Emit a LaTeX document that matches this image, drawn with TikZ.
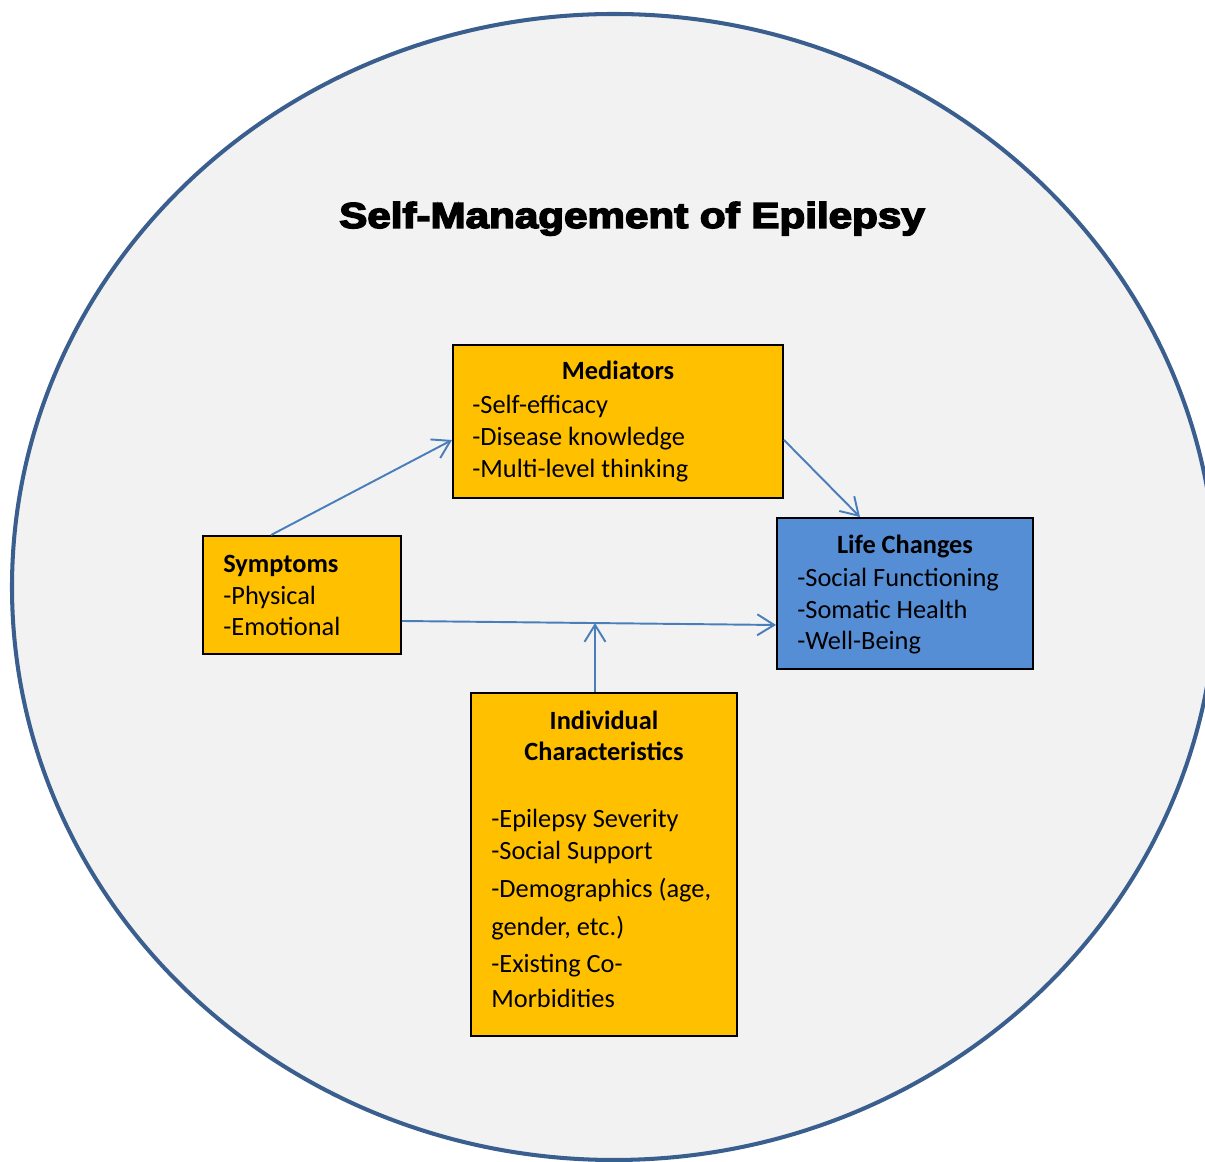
\documentclass[tikz,border=0pt]{standalone}
\usepackage{fontspec}
\setmainfont{Carlito}
\newfontfamily\titlefont[RawFeature={embolden=4}]{Liberation Sans Bold}
\usepackage{xcolor}
\usetikzlibrary{arrows.meta,positioning,calc}

\definecolor{boxorange}{HTML}{FFC000}
\definecolor{boxblue}{HTML}{558ED5}
\definecolor{linkblue}{HTML}{4A7EBB}
\definecolor{rimblue}{HTML}{3A5F8E}
\definecolor{bggrey}{HTML}{F2F2F2}

\begin{document}
\begin{tikzpicture}[every node/.style={font=\fontsize{15}{18.2}\selectfont}, >={Straight Barb[length=0.34cm,width=0.42cm]}]
\tikzset{
  factor/.style={draw=black, line width=1.1pt, rectangle, inner sep=0pt},
  head/.style={font=\fontsize{15}{18.2}\selectfont\bfseries, anchor=base},
  items/.style={align=left, anchor=base west, inner sep=0pt},
  link/.style={->, draw=linkblue, line width=1.1pt}
}
\useasboundingbox (0,0) rectangle (24.1,23.24);
\clip (0,0) rectangle (24.1,23.24);

% background circle
\draw[fill=bggrey, draw=rimblue, line width=2.3pt] (12.28,11.5) ellipse [x radius=12.04cm, y radius=11.46cm];

\node[anchor=base, font=\fontsize{20.5}{24}\titlefont] (title) at (12.64,18.68) {\scalebox{1.17}[1]{Self-Management of Epilepsy}};

% boxes
\node[factor, fill=boxorange, minimum width=6.6cm, minimum height=3.06cm] (med) at (12.36,14.81) {};
\node[factor, fill=boxorange, minimum width=3.96cm, minimum height=2.36cm] (sym) at (6.04,11.34) {};
\node[factor, fill=boxblue, minimum width=5.12cm, minimum height=3.02cm] (life) at (18.10,11.37) {};
\node[factor, fill=boxorange, minimum width=5.32cm, minimum height=6.86cm] (ind) at (12.08,5.95) {};

% texts (base = last line)
\node[head, inner sep=0pt] (medhead) at (12.36,15.64) {Mediators};
\node[items] (medlist) at (9.44,13.68) {-Self-efficacy\\[0.01cm]-Disease knowledge\\[0.01cm]-Multi-level thinking};
\node[items] (symlist) at (4.46,10.52) {\textbf{Symptoms}\\-Physical\\-Emotional};
\node[head, inner sep=0pt] (lifehead) at (18.10,12.16) {Life Changes};
\node[items] (lifelist) at (15.94,10.24) {-Social Functioning\\-Somatic Health\\-Well-Being};
\node[head, align=center, inner sep=0pt] (indhead) at (12.08,8.02) {Individual\\Characteristics};
\node[items] (indlist) at (9.82,3.08) {-Epilepsy Severity\\-Social Support\\[0.12cm]-Demographics (age,\\[0.12cm]gender, etc.)\\[0.1cm]-Existing Co-\\[0.08cm]Morbidities};

% links
\draw[link] ([xshift=-0.62cm]sym.north) -- ([yshift=-0.37cm]med.west);
\draw[link] ([yshift=-0.37cm]med.east) -- ([xshift=-0.9cm]life.north);
\draw[link] ([yshift=-0.52cm]sym.east) -- coordinate[pos=0.516] (join) ([yshift=-0.63cm]life.west);
\draw[link] (join |- ind.north) -- (join);
\end{tikzpicture}
\end{document}
